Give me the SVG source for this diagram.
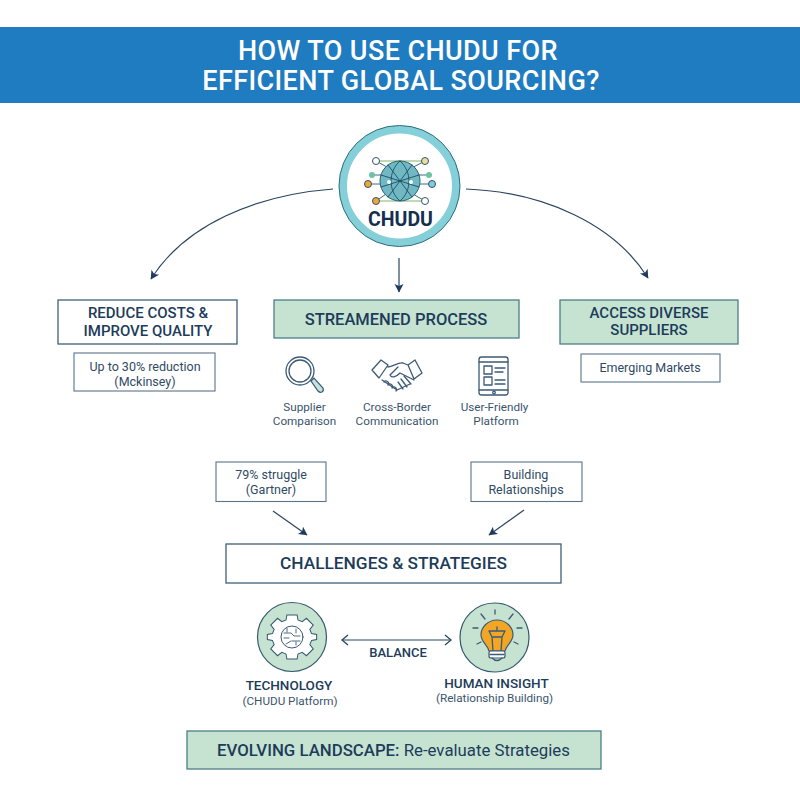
<svg xmlns="http://www.w3.org/2000/svg" width="800" height="800" viewBox="0 0 800 800">
<defs>
<marker id="arr" markerWidth="12" markerHeight="12" refX="9" refY="5" orient="auto" markerUnits="userSpaceOnUse"><path d="M1 0.5L9.5 5L1 9.5L3 5Z" fill="#1f3a5c"/></marker>
<marker id="open" markerWidth="12" markerHeight="12" refX="9" refY="6" orient="auto-start-reverse" markerUnits="userSpaceOnUse"><path d="M3 1L9 6L3 11" fill="none" stroke="#2a4560" stroke-width="1.3"/></marker>
</defs>
<style>
text{font-family:Roboto,"Liberation Sans",sans-serif;text-anchor:middle;fill:#1d3c5a}
.t{font-weight:500;font-size:15px}
.s{font-size:12.5px;fill:#2f4a64}
.l{font-size:11.7px;fill:#3a546d}
.box{fill:#fff;stroke:#3f5f7a;stroke-width:1.3}
.sm{fill:#fff;stroke:#5a7489;stroke-width:1.1}
.grn{fill:#c6e3d2;stroke:#4a7f88;stroke-width:1.3}
.ic{fill:none;stroke:#3d5a75;stroke-width:1.3;stroke-linecap:round;stroke-linejoin:round}
.con{fill:none;stroke:#2a4560;stroke-width:1.2}
</style>
<rect width="800" height="800" fill="#fff"/>
<g id="title">
<rect x="0" y="27" width="800" height="76" fill="#1f7cc0"/>
<text x="398" y="60" style="font-size:27px;font-weight:500;fill:#fff;letter-spacing:.4px">HOW TO USE CHUDU FOR</text>
<text x="401" y="90" style="font-size:27px;font-weight:500;fill:#fff;letter-spacing:.4px">EFFICIENT GLOBAL SOURCING?</text>
</g>
<g id="connectors">
<path class="con" marker-end="url(#arr)" d="M333 189C255 195 185 225 151 279"/>
<path class="con" marker-end="url(#arr)" d="M466 189C545 192 615 225 648 278"/>
<path class="con" marker-end="url(#arr)" d="M399 258V292"/>
<path class="con" marker-end="url(#arr)" d="M273 511L307 535"/>
<path class="con" marker-end="url(#arr)" d="M524 510L489 535"/>
<path class="con" marker-start="url(#open)" marker-end="url(#open)" d="M342 640H451"/>
</g>
<g id="chudu">
<circle cx="399.500" cy="186" r="56.500" fill="#fff" stroke="#85cfd9" stroke-width="8"/>
<circle cx="399.500" cy="186" r="60.500" fill="none" stroke="#2f6d80" stroke-width="1"/>
<path d="M376 161H424M376 201H424" stroke="#a9cf9b" stroke-width="1.5"/>
<path d="M376 161L396 172M425 161L404 172M368 184H432M376 201L392 190M425 201L406 190M372 175L429 175" stroke="#3e6a80" stroke-width="1"/>
<circle cx="400" cy="181" r="20" fill="#70b8c4" stroke="#2d6379" stroke-width="1"/>
<path class="ic" style="stroke-width:.9;stroke:#1f4d63" d="M400 161C388 171 388 191 400 201C412 191 412 171 400 161M381 175L419 187M381 187L419 175M388 165L412 197M412 165L388 197"/>
<g stroke="#35526e" fill="#fff">
<circle cx="376" cy="161" r="3.500"/><circle cx="425" cy="161" r="3.500" fill="#e9df9d"/>
<circle cx="368" cy="184" r="3.500" fill="#eea53a"/><circle cx="432" cy="184" r="3.500" fill="#7fcbd8"/>
<circle cx="376" cy="201" r="3.500" fill="#eea53a"/><circle cx="425" cy="201" r="3.500"/>
</g>
<circle cx="372" cy="175" r="3" fill="#6fc2a4"/><circle cx="429" cy="175" r="3" fill="#6fc2a4"/>
<circle cx="389" cy="182" r="2" fill="#fff"/><circle cx="411" cy="182" r="2" fill="#fff"/>
<text x="400.500" y="226" style="font-size:19.500px;font-weight:700;fill:#14304f">CHUDU</text>
</g>
<g id="reduce">
<rect class="box" x="58" y="300" width="179" height="44"/>
<text class="t" x="148" y="318">REDUCE COSTS &amp;</text>
<text class="t" x="148" y="336">IMPROVE QUALITY</text>
</g>
<g id="reduction">
<rect class="sm" x="74" y="353" width="141" height="38"/>
<text class="s" x="145" y="371">Up to 30% reduction</text>
<text class="s" x="145" y="386">(Mckinsey)</text>
</g>
<g id="streamlined">
<rect class="grn" x="274" y="300" width="245" height="38"/>
<text x="396" y="325" style="font-size:16.500px;font-weight:500">STREAMENED PROCESS</text>
</g>
<g id="access">
<rect class="grn" x="560" y="300" width="178" height="44"/>
<text class="t" x="649" y="318">ACCESS DIVERSE</text>
<text class="t" x="649" y="335">SUPPLIERS</text>
</g>
<g id="emerging">
<rect class="sm" x="581" y="354" width="139" height="28"/>
<text class="s" x="650" y="372">Emerging Markets</text>
</g>
<g id="supplier">
<circle class="ic" cx="300" cy="371" r="14"/><circle class="ic" cx="300" cy="371" r="11"/>
<path d="M311 381L314 378L323 388Q324 391 322 392Q320 393 318 391Z" fill="#c5e2dd" stroke="#3d5a75" stroke-width="1.2"/>
<text class="l" x="304.500" y="411">Supplier</text>
<text class="l" x="304.500" y="425">Comparison</text>
</g>
<g id="communication">
<path class="ic" d="M372 370L381 360L388 365L379 378ZM408 365L415 360L422 373L414 379ZM388 367C393 367 398 362 403 363L408 365M398 367L390 375C392 379 397 376 400 373L414 380M382 380L397 390L410 384"/>
<path class="ic" d="M384 382a2.500 2.500 0 0 1 4 3M388 385a2.500 2.500 0 0 1 4 3M392 388a2.500 2.500 0 0 1 4 3M404 376L411 384M401 379L407 387M398 382L403 389"/>
<text class="l" x="397" y="411">Cross-Border</text>
<text class="l" x="397" y="425">Communication</text>
</g>
<g id="platform">
<rect class="ic" x="479" y="357" width="29" height="38" rx="2.500"/>
<path class="ic" d="M479 362H508M479 390H508M495 368H505M495 372H503M495 380H505M495 384H505"/>
<rect class="ic" x="484" y="366" width="8" height="8"/><rect class="ic" x="484" y="377" width="8" height="8"/>
<circle class="ic" cx="494" cy="392.500" r="1.300"/>
<text class="l" x="494.500" y="411">User-Friendly</text>
<text class="l" x="496" y="425">Platform</text>
</g>
<g id="struggle">
<rect class="sm" x="216" y="462" width="110" height="39.500"/>
<text class="s" x="271" y="479">79% struggle</text>
<text class="s" x="271" y="494">(Gartner)</text>
</g>
<g id="relationships">
<rect class="sm" x="471" y="462" width="111" height="39.500"/>
<text class="s" x="526" y="479">Building</text>
<text class="s" x="526" y="494">Relationships</text>
</g>
<g id="challenges">
<rect class="box" x="226" y="544" width="335" height="39"/>
<text x="393.500" y="569" style="font-size:17.300px;font-weight:500">CHALLENGES &amp; STRATEGIES</text>
</g>
<g id="technology">
<circle cx="292" cy="637" r="34.500" fill="#c6e3d2" stroke="#34596e" stroke-width="1.200"/>
<path transform="translate(292 637) scale(.85) translate(-291 -642)" d="M285 616H297L298 622L303 624L308 620L316 628L312 633L314 638L320 639V645L314 646L312 651L316 656L308 664L303 660L298 662L297 668H285L284 662L279 660L274 664L266 656L270 651L268 646L262 645V639L268 638L270 633L266 628L274 620L279 624L284 622Z" fill="#fff" stroke="#34596e" stroke-width="1.200"/>
<circle class="ic" style="stroke-width:1" cx="292" cy="637" r="11"/>
<path class="ic" style="stroke-width:.9" d="M284 633H291L294 636H300M284 638H289M292 641H300M287 628V632M296 629V633M286 644L291 641M296 645V642"/>
<text x="289" y="690" style="font-size:13.500px;font-weight:500">TECHNOLOGY</text>
<text x="290" y="705" class="l">(CHUDU Platform)</text>
</g>
<g id="balance">
<text x="398" y="657" style="font-size:13px;font-weight:500">BALANCE</text>
</g>
<g id="insight">
<circle cx="494.500" cy="637.500" r="34.500" fill="#c6e3d2" stroke="#34596e" stroke-width="1.200"/>
<path class="ic" d="M495 610V614M481 614L485 619M509 619L513 614M473 628H478M517 628H522M477 644L481 642M514 642L518 644"/>
<path d="M489 651C488 645 481 642 481 635C481 627 488 620 497 620C506 620 513 627 513 635C513 642 506 645 505 651Z" fill="#f1a626" stroke="#3d5a75" stroke-width="1.200"/>
<path class="ic" d="M493 651L492 637H502L501 651M492 637L489 631H505L502 637M497 631V627"/>
<rect x="489" y="651" width="16" height="7" rx="2" fill="#fff" stroke="#3d5a75" stroke-width="1.200"/>
<path class="ic" d="M490 654.500H504M492 658Q497 663 502 658"/>
<text x="496.500" y="688" style="font-size:13.500px;font-weight:500">HUMAN INSIGHT</text>
<text x="494.500" y="702" class="l">(Relationship Building)</text>
</g>
<g id="evolving">
<rect class="grn" x="187" y="731" width="414" height="38"/>
<text x="393.500" y="756" style="font-size:16.800px;font-weight:500">EVOLVING LANDSCAPE: <tspan font-weight="400">Re-evaluate Strategies</tspan></text>
</g>
</svg>
